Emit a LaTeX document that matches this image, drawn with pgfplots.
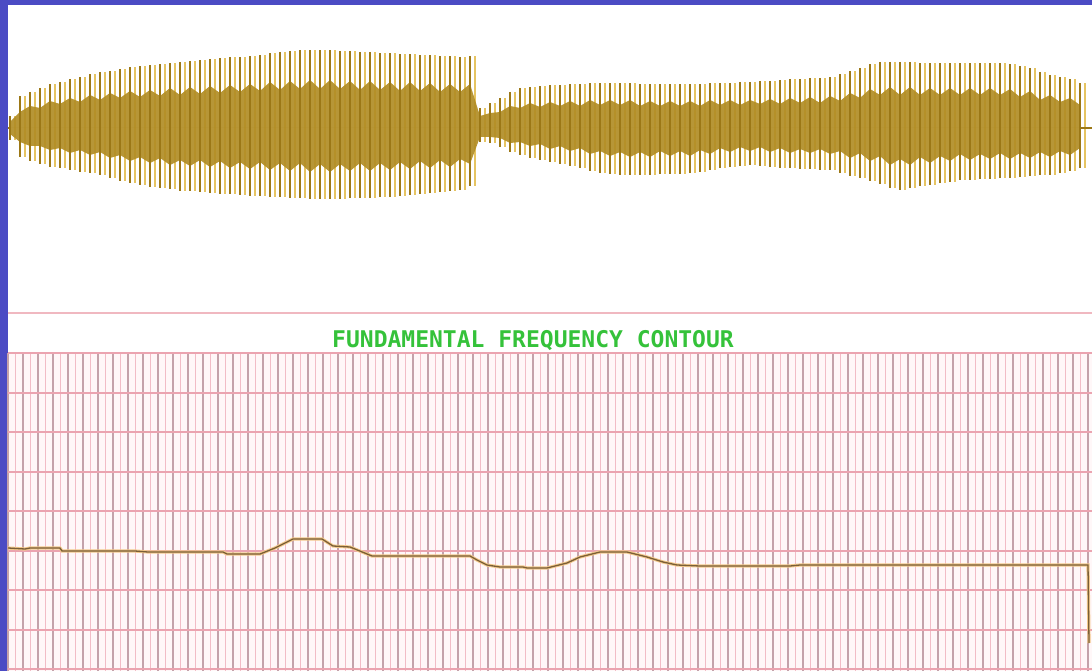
\documentclass[border=0pt]{standalone}
\usepackage{pgfplots}
\pgfplotsset{compat=1.18}
\usepackage{pgfplotstable}
\usepackage{fontspec}
\newfontfamily\titlefont{DejaVu Sans Mono}
\definecolor{bgblue}{HTML}{4B4BC4}
\definecolor{wdark}{HTML}{9C7816}
\definecolor{wlight}{HTML}{E6C462}
\definecolor{wcore}{HTML}{B08B22}
\definecolor{gridmaj}{HTML}{C4A2AA}
\definecolor{gridmin}{HTML}{F2BCC6}
\definecolor{gridh}{HTML}{EBA4B0}
\definecolor{gridbg}{HTML}{FFF7F8}
\definecolor{sepline}{HTML}{F0B8C0}
\definecolor{titlegreen}{HTML}{35C23A}
\definecolor{contdark}{HTML}{7A5E36}
\definecolor{conthalo}{HTML}{F2C88A}

\pgfplotstableread[row sep=\\]{
x t b ct cb\\
10 12 -12 6 -6\\ 20 32 -29 16 -14\\ 30 36 -33 22 -18\\ 40 40 -36 20 -18\\
50 44 -39 27 -22\\ 60 46 -40 24 -20\\ 70 49 -42 30 -25\\ 80 51 -44 26 -22\\
90 54 -45 33 -27\\ 100 56 -47 28 -24\\ 110 57 -50 35 -30\\ 120 59 -53 30 -27\\
130 61 -55 37 -33\\ 140 62 -57 31 -29\\ 150 63 -59 38 -35\\ 160 64 -60 32 -30\\
170 65 -61 40 -37\\ 180 66 -63 33 -32\\ 190 67 -63 41 -38\\ 200 68 -64 34 -32\\
210 69 -65 42 -39\\ 220 70 -66 35 -33\\ 230 71 -66 43 -40\\ 240 71 -67 36 -34\\
250 72 -68 44 -41\\ 260 73 -68 37 -34\\ 270 75 -69 46 -42\\ 280 76 -69 38 -35\\
290 77 -70 47 -43\\ 300 78 -70 39 -35\\ 310 78 -71 48 -44\\ 320 78 -71 39 -36\\
330 78 -71 48 -44\\ 340 77 -71 39 -36\\ 350 77 -70 47 -43\\ 360 76 -70 38 -35\\
370 76 -70 47 -43\\ 380 75 -69 38 -35\\ 390 75 -69 46 -42\\ 400 74 -68 37 -34\\
410 74 -67 46 -41\\ 420 73 -66 37 -33\\ 430 73 -65 45 -40\\ 440 72 -64 36 -32\\
450 72 -63 44 -39\\ 460 71 -62 36 -31\\ 470 72 -58 44 -36\\ 480 20 -14 12 -9\\
490 25 -15 15 -9\\ 500 30 -19 16 -10\\ 510 36 -24 22 -15\\ 520 40 -27 20 -14\\
530 41 -30 25 -18\\ 540 42 -32 21 -16\\ 550 43 -34 26 -21\\ 560 43 -36 22 -18\\
570 44 -38 27 -23\\ 580 44 -40 22 -20\\ 590 45 -43 28 -26\\ 600 45 -45 23 -23\\
610 45 -46 28 -28\\ 620 45 -47 23 -24\\ 630 45 -47 28 -29\\ 640 44 -47 22 -24\\
650 44 -47 27 -29\\ 660 44 -46 22 -23\\ 670 44 -46 27 -28\\ 680 44 -46 22 -23\\
690 44 -45 27 -28\\ 700 44 -44 22 -22\\ 710 45 -42 28 -26\\ 720 45 -40 23 -20\\
730 45 -39 28 -24\\ 740 46 -38 23 -19\\ 750 46 -37 28 -23\\ 760 47 -38 24 -19\\
770 47 -39 29 -24\\ 780 48 -40 24 -20\\ 790 49 -40 30 -25\\ 800 49 -41 25 -21\\
810 50 -41 31 -25\\ 820 50 -42 25 -21\\ 830 51 -42 32 -26\\ 840 54 -45 27 -23\\
850 57 -48 35 -30\\ 860 60 -50 30 -25\\ 870 64 -53 39 -33\\ 880 66 -56 33 -28\\
890 66 -60 41 -37\\ 900 66 -62 33 -31\\ 910 66 -60 41 -37\\ 920 65 -58 33 -29\\
930 65 -57 40 -35\\ 940 65 -55 33 -28\\ 950 65 -54 40 -33\\ 960 65 -52 33 -26\\
970 65 -52 40 -32\\ 980 65 -51 33 -26\\ 990 65 -51 40 -31\\ 1000 65 -50 33 -25\\
1010 64 -50 39 -31\\ 1020 62 -49 31 -25\\ 1030 60 -48 37 -30\\ 1040 56 -47 28 -24\\
1050 53 -47 33 -29\\ 1060 51 -45 26 -23\\ 1070 49 -43 30 -27\\ 1080 45 -40 23 -20\\
}\wave

\pgfplotstableread[row sep=\\]{
x f\\
8 123\\ 25 122\\ 30 123\\ 60 123\\ 62 120\\ 135 120\\ 148 119\\ 223 119\\
227 117\\ 260 117\\ 275 123\\ 293 132\\ 322 132\\ 333 125\\ 350 124\\ 372 115\\
470 115\\ 477 111\\ 487 106\\ 500 104\\ 523 104\\ 527 103\\ 547 103\\ 567 108\\
580 114\\ 600 119\\ 627 119\\ 647 114\\ 663 109\\ 677 106\\ 700 105\\ 790 105\\
800 106\\ 1088 106\\ 1089 28\\
}\contour

\begin{document}
\begin{tikzpicture}
\fill[bgblue] (0,0) rectangle (546pt,335.5pt);
\fill[white] (4pt,0) rectangle (546pt,333pt);

% waveform panel
\begin{axis}[at={(0pt,176.5pt)}, anchor=south west, scale only axis,
  width=546pt, height=156.5pt, xmin=0, xmax=1092, ymin=-190, ymax=123,
  hide axis]
\addplot[ycomb, draw=wlight, line width=1.3pt, xshift=2.5pt] table[x=x,y=t]{\wave};
\addplot[ycomb, draw=wlight, line width=1.3pt, xshift=2.5pt] table[x=x,y=b]{\wave};
\addplot[fill=wcore, draw=none, opacity=0.9] table[x=x,y=ct]{\wave} \closedcycle;
\addplot[fill=wcore, draw=none, opacity=0.9] table[x=x,y=cb]{\wave} \closedcycle;
\addplot[ycomb, draw=wdark, line width=1.3pt] table[x=x,y=t]{\wave};
\addplot[ycomb, draw=wdark, line width=1.3pt] table[x=x,y=b]{\wave};
\addplot[draw=wdark, line width=1pt] coordinates {(8,0)(10,0)};
\addplot[draw=wdark, line width=1pt] coordinates {(1080,0)(1092,0)};
\addplot[draw=sepline, line width=0.9pt] coordinates {(8,-185)(1092,-185)};
\end{axis}

% fundamental frequency panel
\begin{axis}[at={(4pt,0pt)}, anchor=south west, scale only axis,
  width=542pt, height=159pt, xmin=8, xmax=1092, ymin=0, ymax=318,
  axis background/.style={fill=gridbg},
  axis line style={draw=none},
  xtick={8,23,...,1088}, minor x tick num=1,
  ytick={2,41.5,...,318},
  xticklabels={}, yticklabels={},
  major tick length=0pt, minor tick length=0pt,
  xmajorgrids, xminorgrids, ymajorgrids,
  major x grid style={draw=gridmaj, line width=0.75pt},
  minor x grid style={draw=gridmin, line width=0.75pt},
  major y grid style={draw=gridh, line width=1pt},
  clip=false]
\addplot[draw=conthalo, line width=1.6pt] table[x=x,y=f]{\contour};
\addplot[draw=contdark, line width=0.65pt] table[x=x,y=f]{\contour};
\node[font=\titlefont\bfseries\fontsize{11.5}{12}\selectfont, text=titlegreen]
  at (axis cs:533,330) {FUNDAMENTAL FREQUENCY CONTOUR};
\end{axis}
\pgfresetboundingbox
\useasboundingbox (0,0) rectangle (546pt,335.5pt);
\end{tikzpicture}
\end{document}
